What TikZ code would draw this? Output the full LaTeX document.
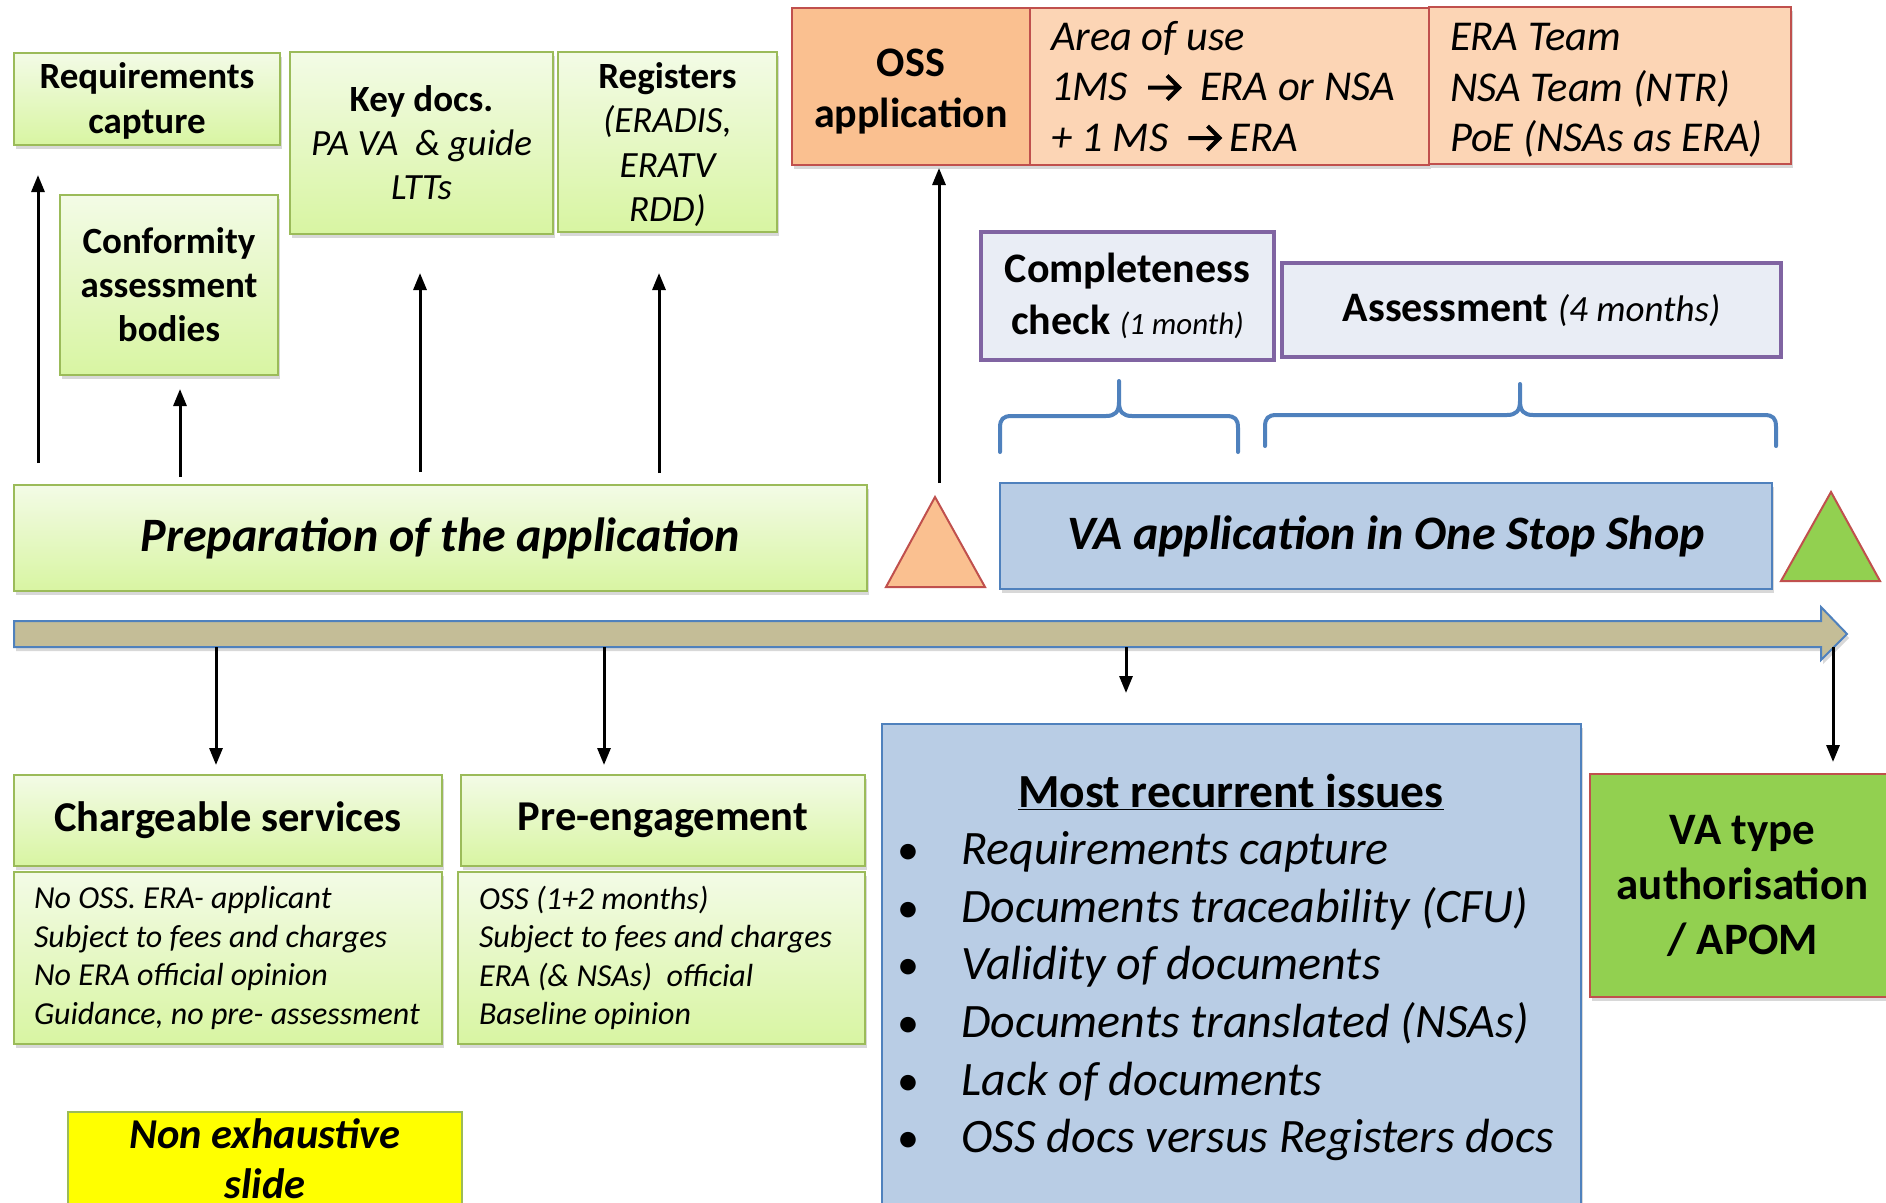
\documentclass[tikz,border=0pt]{standalone}
\usepackage{fontspec}
\setmainfont{Carlito}
\usetikzlibrary{arrows.meta,shadows}
\definecolor{grnB}{HTML}{9BBB59}
\definecolor{grnT}{HTML}{F3FBE6}
\definecolor{grnM}{HTML}{D8F5A2}
\definecolor{redB}{HTML}{C0504D}
\definecolor{orgD}{HTML}{FAC090}
\definecolor{orgL}{HTML}{FCD5B5}
\definecolor{purB}{HTML}{8064A2}
\definecolor{purF}{HTML}{E9EDF5}
\definecolor{bluB}{HTML}{4F81BD}
\definecolor{bluF}{HTML}{B9CDE5}
\definecolor{tanF}{HTML}{C4BD97}
\definecolor{limeF}{HTML}{92D050}
\definecolor{yelF}{HTML}{FFFF00}
\newcommand{\fs}[2]{\fontsize{#1}{#2}\selectfont}
\newcommand{\rarr}{\tikz[baseline=0pt]\draw[line width=4pt, black, line join=miter] (0pt,13pt) -- (31pt,13pt) (19pt,25pt) -- (31pt,13pt) -- (19pt,1pt);}
\tikzset{
  shad/.style={drop shadow={opacity=0.25, shadow xshift=2pt, shadow yshift=-4pt, fill=black!60}},
  gbox/.style={draw=grnB, line width=2pt, top color=grnT, bottom color=grnM, shad, inner sep=0pt, align=center},
  obox/.style={draw=redB, line width=2pt, fill=orgL, shad, inner sep=0pt},
  pbox/.style={draw=purB, line width=4pt, fill=purF, inner sep=0pt, align=center},
  bbox/.style={draw=bluB, line width=2pt, fill=bluF, shad, inner sep=0pt, align=center},
  arr/.style={-{Triangle[length=17pt,width=13pt]}, line width=3pt, black},
  brace/.style={draw=bluB, line width=4pt, line cap=round, line join=round},
}
\begin{document}
\begin{tikzpicture}[x=1pt,y=-1pt]
\useasboundingbox (0,0) rectangle (1886,1202);
\clip (0,0) rectangle (1886,1202);
\fill[white] (0,0) rectangle (1886,1202);

% top green boxes
\node[gbox, font=\fs{37}{45}\bfseries, minimum width=266pt, minimum height=92pt] (req) at (147,99)
  {\rule{0pt}{30pt}Requirements\\capture};
\node[gbox, font=\fs{37}{44}\bfseries, minimum width=218pt, minimum height=180pt] (conf) at (169,285)
  {Conformity\\assessment\\bodies};
\node[gbox, font=\fs{37}{44}, minimum width=263pt, minimum height=182pt] (key) at (421.5,143)
  {{\bfseries Key docs.}\\{\itshape PA VA \ \& guide}\\{\itshape LTTs}};
\node[gbox, font=\fs{37}{44.5}, text depth=0pt, minimum width=219pt, minimum height=180pt] (reg) at (667.5,142)
  {{\bfseries Registers}\\{\itshape (ERADIS,}\\{\itshape ERATV}\\{\itshape RDD)}};
\node[gbox, font=\fs{48}{54}\bfseries\itshape, minimum width=853pt, minimum height=106pt] (prep) at (440.5,538)
  {Preparation of the application};

% up arrows
\draw[arr, shorten <=21pt, shorten >=29pt] (prep.north -| 38,0) -- (req.south -| 38,0);
\draw[arr, shorten <=7pt, shorten >=13pt] (prep.north -| 180,0) -- (conf.south -| 180,0);
\draw[arr, shorten <=12pt, shorten >=38pt] (prep.north -| 420,0) -- (key.south -| 420,0);
\draw[arr, shorten <=11pt, shorten >=40pt] (prep.north -| 659,0) -- (reg.south -| 659,0);

% OSS row
\node[obox, fill=orgD, font=\fs{42}{51}\bfseries, minimum width=238pt, minimum height=157pt, align=center] (oss) at (911,86.5)
  {\rule{0pt}{38pt}OSS\\application};
\node[obox, font=\fs{42.5}{50.5}\itshape, minimum width=399pt, minimum height=157pt, text width=357pt, inner xsep=21pt, align=flush left] (area) at (1229.5,86.5)
  {Area of use\\1MS\hspace{18pt}\rarr\hspace{19pt}ERA or NSA\\+ 1 MS\hspace{18pt}\rarr\hspace{8pt}ERA};
\node[obox, font=\fs{42.5}{50.5}\itshape, minimum width=362pt, minimum height=157pt, text width=320pt, inner xsep=21pt, align=flush left] (team) at (1610,85.5)
  {\rule{0pt}{37.5pt}ERA Team\\NSA Team (NTR)\\PoE (NSAs as ERA)};

% completeness / assessment
\node[pbox, font=\fs{42}{52}\bfseries, minimum width=293pt, minimum height=128pt] (compl) at (1127.5,296)
  {Completeness\\check {\fs{31}{31}\mdseries\itshape (1 month)}};
\node[pbox, font=\fs{42}{52}\bfseries, minimum width=499pt, minimum height=94pt] (assess) at (1531.5,310)
  {Assessment {\fs{37}{37}\mdseries\itshape (4 months)}};

% braces
\draw[brace] (1000,452) -- (1000,428) .. controls (1000,419) and (1003,416) .. (1012,416)
  -- (1106,416) .. controls (1115,416) and (1119,412) .. (1119,402) -- (1119,381)
  (1119,402) .. controls (1119,412) and (1123,416) .. (1132,416)
  -- (1226,416) .. controls (1235,416) and (1238,419) .. (1238,428) -- (1238,452);
\draw[brace] (1265,446) -- (1265,427) .. controls (1265,418) and (1268,415) .. (1277,415)
  -- (1507,415) .. controls (1516,415) and (1520,411) .. (1520,401) -- (1520,384)
  (1520,401) .. controls (1520,411) and (1524,415) .. (1533,415)
  -- (1764,415) .. controls (1773,415) and (1776,418) .. (1776,427) -- (1776,446);

% VA application + triangles
\node[bbox, font=\fs{48}{54}\bfseries\itshape, minimum width=772pt, minimum height=106pt] (vaapp) at (1386,536)
  {VA application in One Stop Shop};
\draw[draw=redB, line width=2pt, fill=orgD] (935,497) -- (985,587) -- (886,587) -- cycle;
\coordinate (tri1top) at (939,483);
\draw[draw=redB, line width=2pt, fill=limeF] (1831,492) -- (1880,581) -- (1781,581) -- cycle;
\draw[arr, shorten >=2pt] (tri1top) -- (oss.south -| tri1top);

% timeline
\draw[draw=bluB, line width=2pt, fill=tanF, shad] (14,621) -- (1821,621) -- (1821,607) -- (1847,634)
  -- (1821,660) -- (1821,647) -- (14,647) -- cycle;
\coordinate (tl) at (14,647);

% bottom boxes
\node[gbox, font=\fs{42.5}{48}\bfseries, minimum width=428pt, minimum height=91pt] (chT) at (228,820.5)
  {Chargeable services};
\node[gbox, font=\fs{32}{38.5}\itshape, minimum width=428pt, minimum height=172pt, text width=388pt, inner xsep=20pt, align=flush left] (chB) at (228,958)
  {No OSS. ERA- applicant\\Subject to fees and charges\\No ERA official opinion\\Guidance, no pre- assessment};
\node[gbox, font=\fs{42.5}{48}\bfseries, minimum width=404pt, minimum height=91pt] (peT) at (663,820.5)
  {Pre-engagement};
\node[gbox, font=\fs{32}{38.5}\itshape, minimum width=407pt, minimum height=172pt, text width=365pt, inner xsep=21pt, align=flush left] (peB) at (661.5,958)
  {OSS (1+2 months)\\Subject to fees and charges\\ERA (\& NSAs) \ official\\Baseline opinion};
\node[draw=grnB, line width=2pt, fill=yelF, font=\fs{42.5}{50}\bfseries\itshape, minimum width=394pt, minimum height=94pt, inner sep=0pt, align=center] (nonex) at (265,1159)
  {Non exhaustive\\slide};

% issues box
\node[bbox, minimum width=699pt, minimum height=500pt] (issues) at (1231.5,974) {};
\node[anchor=base, inner sep=0pt, font=\fs{47.5}{52}\bfseries] (ititle) at (1231,807) {\underline{Most recurrent issues}};
\foreach \t [count=\i] in {Requirements capture, Documents traceability (CFU), Validity of documents, Documents translated (NSAs), Lack of documents, OSS docs versus Registers docs} {
  \node[anchor=base, inner sep=0pt, font=\fs{44}{50}] (ib\i) at (908,807+57.6*\i) {\textbullet};
  \node[anchor=base west, inner sep=0pt, font=\fs{48}{52}\itshape] (it\i) at (961,807+57.6*\i) {\t};
}

% VA type authorisation
\node[draw=redB, line width=2pt, fill=limeF, shad, font=\fs{45}{55}\bfseries, minimum width=305pt, minimum height=223pt, inner sep=0pt, align=center] (vatype) at (1742.5,885.5)
  {VA type\\authorisation\\/ APOM};

% down arrows
\draw[arr, shorten >=9pt] (tl -| 216,0) -- (chT.north -| 216,0);
\draw[arr, shorten >=9pt] (tl -| 604,0) -- (peT.north -| 604,0);
\draw[arr, shorten >=30pt] (tl -| 1126,0) -- (issues.north -| 1126,0);
\draw[arr, shorten >=11pt] (tl -| 1833,0) -- (vatype.north -| 1833,0);
\end{tikzpicture}
\end{document}
